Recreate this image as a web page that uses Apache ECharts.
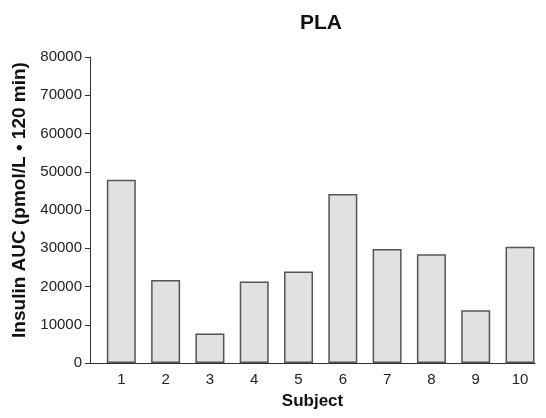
<!DOCTYPE html>
<html>
<head>
<meta charset="utf-8">
<script src="https://cdn.jsdelivr.net/npm/echarts@6/dist/echarts.min.js"></script>
<style>
  html, body { margin: 0; padding: 0; background: #fff; }
  #chart { width: 546px; height: 418px; }
</style>
</head>
<body>
<div id="chart"></div>
<script>
// data
const subjects = [1, 2, 3, 4, 5, 6, 7, 8, 9, 10];
const insulinAUC = [47900, 21700, 7700, 21300, 23900, 44200, 29800, 28400, 13800, 30400];
const yTicks = [0, 10000, 20000, 30000, 40000, 50000, 60000, 70000, 80000];

const chart = echarts.init(document.getElementById('chart'), null, { renderer: 'canvas' });

const font = 'Liberation Sans, Arial, sans-serif';

chart.setOption({
  animation: false,
  title: {
    text: 'PLA',
    left: 316,
    textAlign: 'center',
    top: 8,
    textStyle: { fontFamily: font, fontSize: 21, fontWeight: 'bold', color: '#111' }
  },
  grid: { left: 90, right: 11, top: 57, bottom: 55 },
  xAxis: {
    type: 'value',
    min: 0.293,
    max: 10.338,
    splitNumber: 10,
    name: 'Subject',
    nameLocation: 'middle',
    nameGap: 30,
    nameTextStyle: { fontFamily: font, fontSize: 17, fontWeight: 'bold', color: '#111' },
    axisLine: { lineStyle: { color: '#333', width: 1 } },
    axisTick: { show: false },
    splitLine: { show: false },
    axisLabel: {
      showMinLabel: false,
      showMaxLabel: false,
      margin: 9,
      fontFamily: font,
      fontSize: 15,
      color: '#222',
      formatter: v => (subjects.includes(v) ? String(v) : '')
    }
  },
  yAxis: {
    type: 'value',
    min: yTicks[0],
    max: yTicks[yTicks.length - 1],
    interval: yTicks[1] - yTicks[0],
    name: 'Insulin AUC (pmol/L \u2022 120 min)',
    nameLocation: 'middle',
    nameGap: 56,
    nameTextStyle: {
      fontFamily: font, fontSize: 19, fontWeight: 'bold', color: '#111',
      padding: [0, 0, 0, 20]
    },
    axisLine: { show: true, lineStyle: { color: '#333', width: 1 } },
    axisTick: { show: true, length: 5, lineStyle: { color: '#333' } },
    splitLine: { show: false },
    axisLabel: {
      margin: 8,
      fontFamily: font,
      fontSize: 15,
      color: '#222',
      formatter: v => String(v)
    }
  },
  series: [{
    type: 'bar',
    barWidth: 29,
    data: subjects.map((s, i) => [s, insulinAUC[i]]),
    itemStyle: { color: '#e1e1e1', borderColor: '#555', borderWidth: 1.5 }
  }]
});
</script>
</body>
</html>
